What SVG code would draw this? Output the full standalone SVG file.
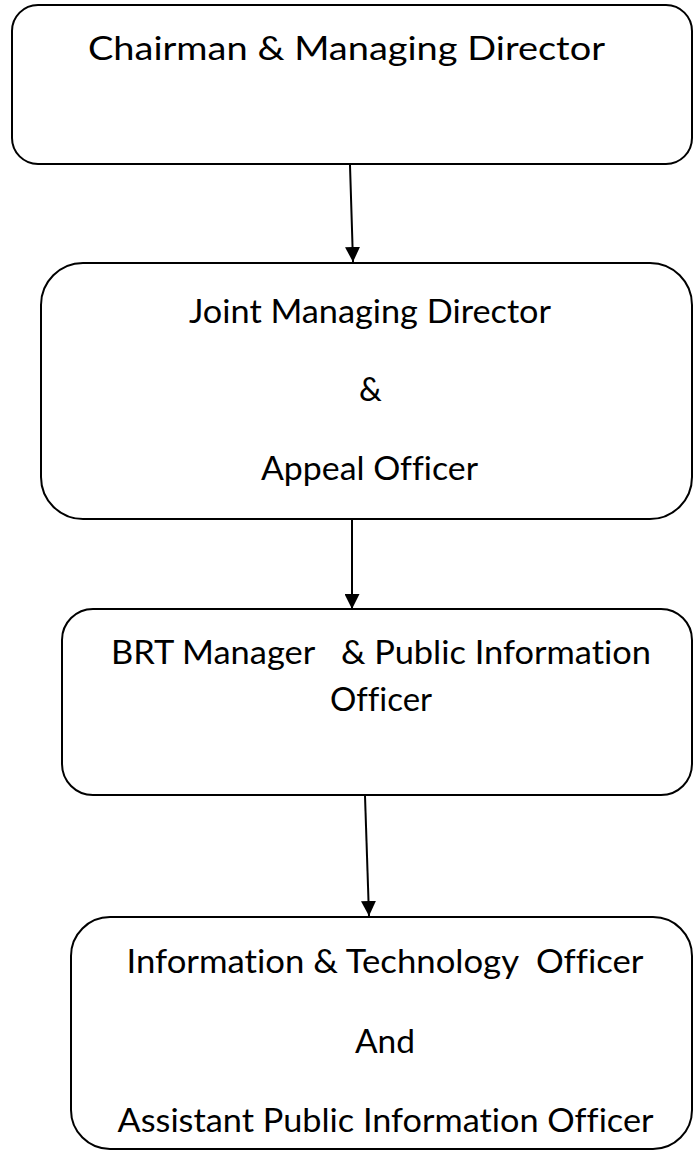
<svg xmlns="http://www.w3.org/2000/svg" width="694" height="1151" viewBox="0 0 694 1151">
<style>
.box{fill:#fff;stroke:#000;stroke-width:2}
.lbl{font-family:Lato,"Liberation Sans",sans-serif;font-size:32px;fill:#000;text-anchor:middle;white-space:pre;font-variant-ligatures:none;font-feature-settings:"liga" 0,"dlig" 0}
.conn{stroke:#000;stroke-width:2;fill:none;marker-end:url(#ah)}
</style>
<defs>
<marker id="ah" markerUnits="userSpaceOnUse" markerWidth="15" markerHeight="15" refX="15" refY="7.5" orient="auto">
<path d="M0,0 L15,7.5 L0,15 Z" fill="#000"/>
</marker>
</defs>
<rect width="694" height="1151" fill="#fff"/>
<g id="connectors">
<line class="conn" x1="350" y1="165" x2="353" y2="262"/>
<line class="conn" x1="352" y1="520" x2="352" y2="609"/>
<line class="conn" x1="365" y1="796" x2="369" y2="916"/>
</g>
<g id="n1">
<rect class="box" x="12" y="5" width="680" height="159" rx="26" ry="26"/>
<text class="lbl" x="346.5" y="59.5" textLength="517" lengthAdjust="spacingAndGlyphs">Chairman &amp; Managing Director</text>
</g>
<g id="n2">
<rect class="box" x="41" y="263" width="651" height="256" rx="42" ry="42"/>
<text class="lbl" x="370" y="323" textLength="362" lengthAdjust="spacingAndGlyphs">Joint Managing Director</text>
<text class="lbl" x="370.5" y="401">&amp;</text>
<text class="lbl" x="369.5" y="480" textLength="217" lengthAdjust="spacingAndGlyphs">Appeal Officer</text>
</g>
<g id="n3">
<rect class="box" x="62" y="609" width="630" height="186" rx="31" ry="31"/>
<text class="lbl" x="381" y="664" textLength="540" lengthAdjust="spacingAndGlyphs">BRT Manager   &amp; Public Information</text>
<text class="lbl" x="381" y="711" textLength="102" lengthAdjust="spacingAndGlyphs">Officer</text>
</g>
<g id="n4">
<rect class="box" x="71" y="917" width="621" height="232" rx="39" ry="39"/>
<text class="lbl" x="385" y="973" textLength="517" lengthAdjust="spacingAndGlyphs">Information &amp; Technology  Officer</text>
<text class="lbl" x="385" y="1053" textLength="60" lengthAdjust="spacingAndGlyphs">And</text>
<text class="lbl" x="385.5" y="1132" textLength="536" lengthAdjust="spacingAndGlyphs">Assistant Public Information Officer</text>
</g>
</svg>
